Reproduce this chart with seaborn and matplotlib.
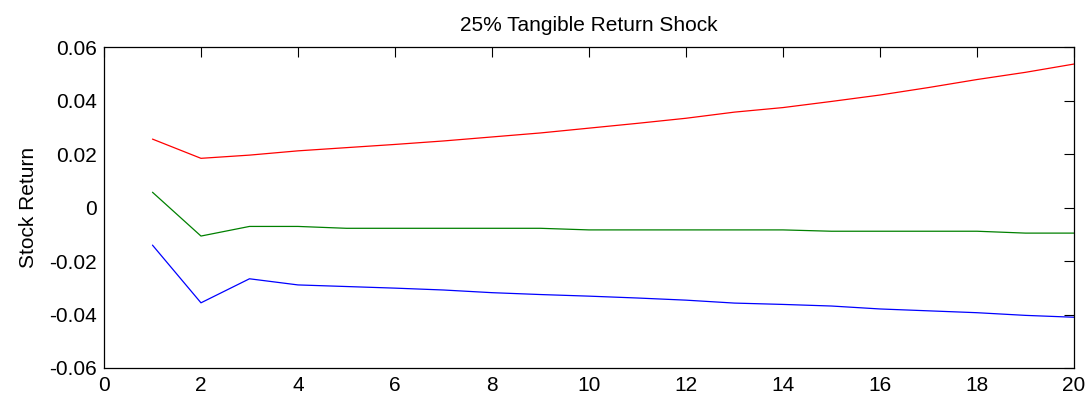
import matplotlib
matplotlib.use("Agg")
import matplotlib.pyplot as plt
import seaborn as sns
import pandas as pd

periods = list(range(1, 21))
upper = [0.0257, 0.0185, 0.0197, 0.0213, 0.0225, 0.0237, 0.0250, 0.0265, 0.0280, 0.0298,
         0.0316, 0.0335, 0.0358, 0.0375, 0.0398, 0.0422, 0.0450, 0.0480, 0.0507, 0.0538]
median = [0.0058, -0.0106, -0.0070, -0.0070, -0.0077, -0.0077, -0.0077, -0.0077, -0.0077, -0.0083,
          -0.0083, -0.0083, -0.0083, -0.0083, -0.0088, -0.0088, -0.0088, -0.0088, -0.0095, -0.0095]
lower = [-0.0140, -0.0356, -0.0266, -0.0289, -0.0295, -0.0301, -0.0308, -0.0318, -0.0325, -0.0331,
         -0.0338, -0.0346, -0.0357, -0.0362, -0.0368, -0.0379, -0.0386, -0.0393, -0.0403, -0.0410]
xticks = [0, 2, 4, 6, 8, 10, 12, 14, 16, 18, 20]
yticks = [-0.06, -0.04, -0.02, 0, 0.02, 0.04, 0.06]
ytick_labels = ["-0.06", "-0.04", "-0.02", "0", "0.02", "0.04", "0.06"]

sns.set_style("white")
plt.rcParams['font.family'] = ['Liberation Sans', 'DejaVu Sans']

df = pd.DataFrame({"period": periods * 3,
                   "value": upper + median + lower,
                   "series": ["upper"] * 20 + ["median"] * 20 + ["lower"] * 20})

fig = plt.figure(figsize=(10.91, 3.98), dpi=100)
ax = fig.add_axes([0.0953, 0.0754, 0.8891, 0.8053])
sns.lineplot(data=df, x="period", y="value", hue="series",
             palette={"upper": "#ff0000", "median": "#008000", "lower": "#0000ff"},
             linewidth=0.9, legend=False, ax=ax, estimator=None)

ax.set_xlim(0, 20)
ax.set_ylim(-0.06, 0.06)
ax.set_xticks(xticks)
ax.set_xticklabels([str(t) for t in xticks])
ax.set_yticks(yticks)
ax.set_yticklabels(ytick_labels)
ax.tick_params(direction="in", length=7, width=0.8, top=True, right=True,
               labelsize=15, colors="black")
ax.tick_params(axis="x", pad=6)
ax.tick_params(axis="y", pad=5)
for s in ax.spines.values():
    s.set_visible(True)
    s.set_color("black")
    s.set_linewidth(0.9)
ax.set_xlabel("")
ax.set_ylabel("Stock Return", fontsize=15, labelpad=8, color="black")
ax.set_title("25% Tangible Return Shock", fontsize=15, pad=12, color="black")

fig.savefig("out.png", dpi=100)
